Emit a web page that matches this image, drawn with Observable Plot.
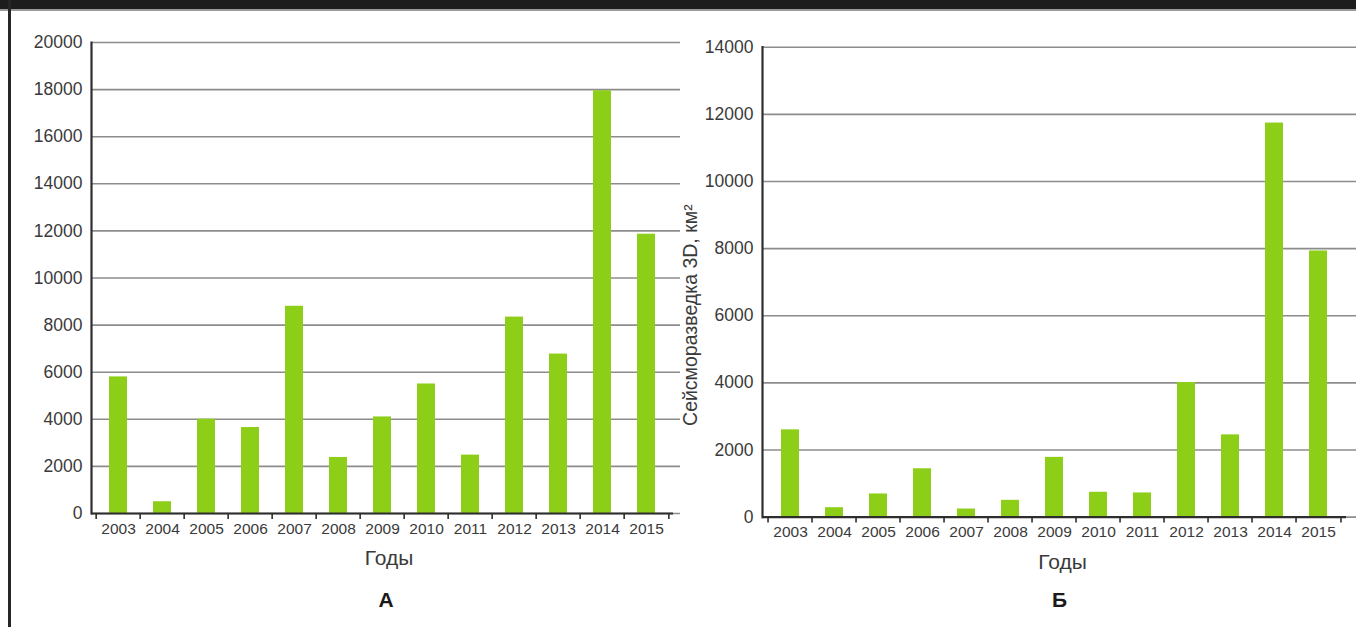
<!DOCTYPE html>
<html>
<head>
<meta charset="utf-8">
<script src="https://cdn.jsdelivr.net/npm/d3@7"></script>
<script src="https://cdn.jsdelivr.net/npm/@observablehq/plot@0.6"></script>
<style>
  html, body { margin: 0; padding: 0; background: #fff; }
  body { width: 1356px; height: 627px; position: relative; overflow: hidden; font-family: "Liberation Sans", Arial, sans-serif; }
  #topbar { position: absolute; left: 0; top: 0; width: 1356px; height: 9px; background: #1d1d1d; border-bottom: 2px solid #9a9a9a; }
  #leftborder { position: absolute; left: 8px; top: 0; width: 3px; height: 627px; background: #262626; }
  #panelA { position: absolute; left: 0; top: 0; }
  #panelB { position: absolute; left: 676px; top: 0; }
</style>
</head>
<body>
<div id="panelA"></div>
<div id="panelB"></div>
<div id="topbar"></div>
<div id="leftborder"></div>
<script>
// ---- data ----
const years = ["2003","2004","2005","2006","2007","2008","2009","2010","2011","2012","2013","2014","2015"];
const valuesA = [5800, 500, 4000, 3650, 8800, 2380, 4100, 5500, 2480, 8340, 6770, 17950, 11860];
const valuesB = [2600, 280, 690, 1440, 240, 500, 1780, 740, 720, 4010, 2450, 11740, 7930];
const ticksA = [0, 2000, 4000, 6000, 8000, 10000, 12000, 14000, 16000, 18000, 20000];
const ticksB = [0, 2000, 4000, 6000, 8000, 10000, 12000, 14000];
const xLabel = "Годы";
const yLabelB = "Сейсморазведка 3D, км²";
const panelTitles = ["А", "Б"];

const dataA = years.map((y, i) => ({year: y, value: valuesA[i]}));
const dataB = years.map((y, i) => ({year: y, value: valuesB[i]}));

const barColor = "#8dcf18";
const gridColor = "#8c8c8c";
const axisColor = "#2e2e2e";
const textColor = "#3a3a3a";
const W = 680, H = 620;

function panel({data, ticks, yMax, marginTop, yZero, xRange, baseInsetRight, title, titleDy, yLabel}) {
  const step = (xRange[1] - xRange[0]) / years.length;
  const marks = [
    Plot.gridY(ticks, {stroke: gridColor, strokeOpacity: 1, strokeWidth: 1.6}),
    Plot.barY(data, {x: "year", y: "value", fill: barColor}),
    Plot.ruleY([0], {stroke: axisColor, strokeWidth: 2.2, insetRight: baseInsetRight}),
    Plot.frame({anchor: "left", stroke: axisColor, strokeWidth: 2.2}),
    Plot.axisY(ticks, {tickSize: 6, tickPadding: 3, fontSize: 17.5, fill: textColor, stroke: null, tickFormat: d => String(d), label: null}),
    Plot.axisX({tickSize: 0, tickPadding: 9, fontSize: 15.5, fill: textColor, label: null}),
    Plot.axisX(years, {tickSize: 6, tickFormat: () => "", dx: -step / 2, stroke: axisColor, strokeWidth: 1.6, label: null}),
    Plot.axisX([years[years.length - 1]], {tickSize: 6, tickFormat: () => "", dx: step / 2, stroke: axisColor, strokeWidth: 1.6, label: null}),
    Plot.text([xLabel], {frameAnchor: "bottom", dy: 45, dx: 3, fontSize: 21, fill: textColor, lineAnchor: "middle"}),
    Plot.text([title], {frameAnchor: "bottom", dy: titleDy, dx: 0, fontSize: 21, fontWeight: "bold", fill: "#1a1a1a", lineAnchor: "middle"})
  ];
  if (yLabel) {
    marks.push(Plot.text([yLabel], {frameAnchor: "left", textAnchor: "middle", rotate: -90, dx: -72, dy: 33, fontSize: 19.5, fill: textColor, lineAnchor: "middle"}));
  }
  return Plot.plot({
    width: W,
    height: H,
    marginTop: marginTop,
    marginBottom: H - yZero,
    marginLeft: xRange[0],
    marginRight: 0,
    style: {fontFamily: "'Liberation Sans', Arial, sans-serif", background: "transparent", overflow: "visible"},
    x: {type: "band", domain: years, range: xRange, paddingInner: 0.6, paddingOuter: 0.3, align: 0.5},
    y: {domain: [0, yMax], range: [yZero, marginTop]},
    marks
  });
}

document.getElementById("panelA").append(panel({
  data: dataA, ticks: ticksA, yMax: 20000, marginTop: 42, yZero: 513,
  xRange: [91, 672], baseInsetRight: 7, title: panelTitles[0], titleDy: 87, yLabel: null
}));
document.getElementById("panelB").append(panel({
  data: dataB, ticks: ticksB, yMax: 14000, marginTop: 46.7, yZero: 516.6,
  xRange: [86, 670], baseInsetRight: 10, title: panelTitles[1], titleDy: 83, yLabel: yLabelB
}));
</script>
</body>
</html>
